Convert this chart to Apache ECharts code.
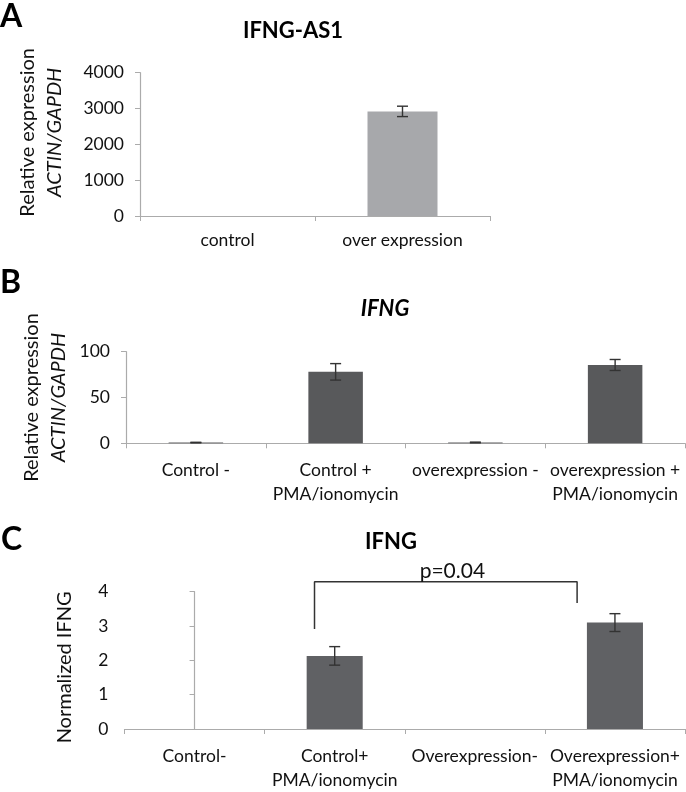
<!DOCTYPE html>
<html>
<head>
<meta charset="utf-8">
<script src="https://cdn.jsdelivr.net/npm/echarts@6/dist/echarts.min.js"></script>
<style>
html,body{margin:0;padding:0;background:#fff;}
#c{width:686px;height:792px;}
</style>
</head>
<body>
<div id="c"></div>
<script>
// ---- Data ----
const catsA = ['control', 'over expression'];
const valsA = [1, 2920];
const errA = [0, 145];
const ticksA = { min: 0, max: 4000, interval: 1000 };

const catsB = ['Control -', 'Control +\nPMA/ionomycin', 'overexpression -', 'overexpression +\nPMA/ionomycin'];
const valsB = [0.8, 78, 0.9, 85.5];
const errB = [0.3, 9, 0.4, 6];
const ticksB = { min: 0, max: 100, interval: 50 };

const catsC = ['Control-', 'Control+\nPMA/ionomycin', 'Overexpression-', 'Overexpression+\nPMA/ionomycin'];
const valsC = [0, 2.13, 0, 3.1];
const errC = [0, 0.27, 0, 0.26];
const ticksC = { min: 0, max: 4, interval: 1 };

// significance bracket (x in category units, y in C units)
const bracketC = [[0.856, 2.91], [0.856, 4.29], [2.73, 4.29], [2.73, 3.67]];
const pText = 'p=0.04';
const pPos = [1.84, 4.6];

// ---- Helpers ----
const FONT = 'Lato';
const AXIS_GREY = '#ababab';
const TEXT = '#111';

function errData(vals, errs) {
  const out = [];
  vals.forEach((v, i) => { if (errs[i] > 0) out.push([i, v - errs[i], v + errs[i]]); });
  return out;
}
function errRender(params, api) {
  const i = api.value(0), lo = api.value(1), hi = api.value(2);
  const t = api.coord([i, hi]), b = api.coord([i, lo]);
  const hw = 5.5;
  const st = { stroke: '#333', lineWidth: 1.4 };
  return { type: 'group', children: [
    { type: 'line', shape: { x1: t[0], y1: t[1], x2: b[0], y2: b[1] }, style: st },
    { type: 'line', shape: { x1: t[0] - hw, y1: t[1], x2: t[0] + hw, y2: t[1] }, style: st },
    { type: 'line', shape: { x1: b[0] - hw, y1: b[1], x2: b[0] + hw, y2: b[1] }, style: st }
  ]};
}
function catAxis(grid, cats, margin) {
  return {
    type: 'category', gridIndex: grid, data: cats,
    axisLine: { lineStyle: { color: AXIS_GREY, width: 1.2 } },
    axisTick: { show: true, length: 5, lineStyle: { color: AXIS_GREY } },
    axisLabel: { color: TEXT, fontFamily: FONT, fontSize: 17.5, lineHeight: 24, margin: margin, interval: 0 }
  };
}
function valAxis(grid, t, name, gap, pad) {
  return {
    type: 'value', gridIndex: grid, min: t.min, max: t.max, interval: t.interval,
    splitLine: { show: false },
    axisLine: { show: true, lineStyle: { color: AXIS_GREY, width: 1.2 } },
    axisTick: { show: true, length: 5, lineStyle: { color: AXIS_GREY } },
    axisLabel: { color: TEXT, fontFamily: FONT, fontSize: 17.5, margin: 16, formatter: v => String(v) },
    name: name, nameLocation: 'middle', nameRotate: 90, nameGap: gap,
    nameTextStyle: {
      color: TEXT, fontFamily: FONT, fontSize: 20, padding: pad,
      rich: {
        n: { fontFamily: FONT, fontSize: 20, lineHeight: 27, color: TEXT },
        i: { fontFamily: FONT, fontSize: 20, lineHeight: 27, color: TEXT, fontStyle: 'italic' }
      }
    }
  };
}

const chart = echarts.init(document.getElementById('c'));
chart.setOption({
  backgroundColor: '#fff',
  animation: false,
  title: [
    { text: 'A', left: 0, top: 1, padding: 0, textStyle: { fontFamily: FONT, fontSize: 32, fontWeight: 'bold', color: '#000' } },
    { text: 'IFNG-AS1', left: 293, top: 20, padding: 0, textAlign: 'center', textStyle: { fontFamily: FONT, fontSize: 22, fontWeight: 'bold', color: '#000' } },
    { text: 'B', left: 0, top: 267, padding: 0, textStyle: { fontFamily: FONT, fontSize: 32, fontWeight: 'bold', color: '#000' } },
    { text: 'IFNG', left: 385, top: 298, padding: 0, textAlign: 'center', textStyle: { fontFamily: FONT, fontSize: 22, fontWeight: 'bold', fontStyle: 'italic', color: '#000' } },
    { text: 'C', left: 1, top: 524, padding: 0, textStyle: { fontFamily: FONT, fontSize: 32, fontWeight: 'bold', color: '#000' } },
    { text: 'IFNG', left: 391, top: 531, padding: 0, textAlign: 'center', textStyle: { fontFamily: FONT, fontSize: 22, fontWeight: 'bold', color: '#000' } }
  ],
  grid: [
    { left: 140, right: 196, top: 72.7, bottom: 576 },
    { left: 126, right: 1, top: 351.7, bottom: 348.7 },
    { left: 124.5, right: 1, top: 591.7, bottom: 57.7 }
  ],
  xAxis: [
    catAxis(0, catsA, 12),
    catAxis(1, catsB, 15),
    catAxis(2, catsC, 15),
    { type: 'value', gridIndex: 2, min: -0.5, max: 3.5, show: false }
  ],
  yAxis: [
    valAxis(0, ticksA, '{n|Relative expression}\n{i|ACTIN/GAPDH}', 72, [0, 0, 0, 24]),
    valAxis(1, ticksB, '{n|Relative expression}\n{i|ACTIN/GAPDH}', 50, [0, 0, 0, 0]),
    valAxis(2, ticksC, 'Normalized IFNG', 50, [0, 14, 0, 0])
  ],
  series: [
    { type: 'bar', xAxisIndex: 0, yAxisIndex: 0, data: valsA, barWidth: '40%', itemStyle: { color: '#a7a8ab' } },
    { type: 'custom', xAxisIndex: 0, yAxisIndex: 0, data: errData(valsA, errA), renderItem: errRender, z: 5 },
    { type: 'bar', xAxisIndex: 1, yAxisIndex: 1, data: valsB, barWidth: '39%', itemStyle: { color: '#58595b' } },
    { type: 'custom', xAxisIndex: 1, yAxisIndex: 1, data: errData(valsB, errB), renderItem: errRender, z: 5 },
    { type: 'bar', xAxisIndex: 2, yAxisIndex: 2, data: valsC, barWidth: '40%', itemStyle: { color: '#606164' } },
    { type: 'custom', xAxisIndex: 2, yAxisIndex: 2, data: errData(valsC, errC), renderItem: errRender, z: 5 },
    { type: 'line', xAxisIndex: 3, yAxisIndex: 2, data: bracketC, clip: false, symbol: 'none',
      lineStyle: { color: '#333', width: 1.5 }, z: 6 },
    { type: 'scatter', xAxisIndex: 3, yAxisIndex: 2, data: [pPos], clip: false, symbolSize: 0,
      itemStyle: { opacity: 1 },
      label: { show: true, position: 'inside', formatter: pText, fontFamily: FONT, fontSize: 21, color: TEXT }, z: 7 }
  ]
});
</script>
</body>
</html>
